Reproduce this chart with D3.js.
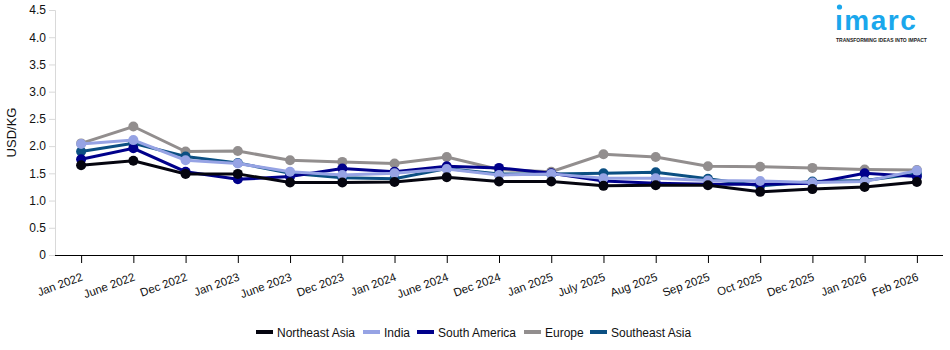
<!DOCTYPE html>
<html>
<head>
<meta charset="utf-8">
<script src="https://cdn.jsdelivr.net/npm/d3@7"></script>
<style>
  body { margin: 0; background: #fff; font-family: Arial, "Liberation Sans", sans-serif; }
  svg text { font-family: Arial, "Liberation Sans", sans-serif; }
</style>
</head>
<body>
<div id="chart"></div>
<script>
const months = ['Jan 2022', 'June 2022', 'Dec 2022', 'Jan 2023', 'June 2023', 'Dec 2023', 'Jan 2024',
  'June 2024', 'Dec 2024', 'Jan 2025', 'July 2025', 'Aug 2025', 'Sep 2025', 'Oct 2025',
  'Dec 2025', 'Jan 2026', 'Feb 2026'];

const northeastAsia = [1.65, 1.73, 1.49, 1.49, 1.33, 1.33, 1.34, 1.43, 1.35, 1.35, 1.27, 1.28, 1.28, 1.16, 1.21, 1.25, 1.34];
const india = [2.04, 2.11, 1.74, 1.68, 1.53, 1.47, 1.50, 1.58, 1.47, 1.49, 1.41, 1.41, 1.37, 1.36, 1.33, 1.35, 1.55];
const southAmerica = [1.76, 1.96, 1.53, 1.39, 1.44, 1.59, 1.53, 1.63, 1.60, 1.50, 1.36, 1.32, 1.30, 1.30, 1.32, 1.50, 1.44];
const europe = [2.05, 2.36, 1.90, 1.91, 1.74, 1.71, 1.68, 1.80, 1.57, 1.53, 1.85, 1.80, 1.63, 1.62, 1.60, 1.57, 1.56];
const southeastAsia = [1.90, 2.05, 1.81, 1.69, 1.50, 1.42, 1.40, 1.59, 1.49, 1.49, 1.50, 1.52, 1.40, 1.27, 1.35, 1.37, 1.49];

const yTicks = [0, 0.5, 1.0, 1.5, 2.0, 2.5, 3.0, 3.5, 4.0, 4.5];

const series = [
  { name: 'Northeast Asia', values: northeastAsia, color: '#05050f' },
  { name: 'India', values: india, color: '#96a3e4' },
  { name: 'South America', values: southAmerica, color: '#00008b' },
  { name: 'Europe', values: europe, color: '#928e8e' },
  { name: 'Southeast Asia', values: southeastAsia, color: '#0b4f82' },
];
// paint order: back to front
const drawOrder = ['Europe', 'Southeast Asia', 'South America', 'India', 'Northeast Asia'];

const width = 950, height = 350;
const margin = { left: 55, right: 7, top: 10, bottom: 95 };

const svg = d3.select('#chart').append('svg')
  .attr('width', width)
  .attr('height', height);

const x = d3.scalePoint()
  .domain(months)
  .range([margin.left, width - margin.right])
  .padding(0.5);

const y = d3.scaleLinear()
  .domain([0, 4.5])
  .range([height - margin.bottom, margin.top]);

// Y axis
const yAxis = svg.append('g')
  .attr('transform', 'translate(' + margin.left + ',0)')
  .call(d3.axisLeft(y).tickValues(yTicks).tickSize(6)
    .tickFormat(d => d === 0 ? '0' : d3.format('.1f')(d)));
yAxis.select('.domain').attr('stroke', '#d9d9d9');
yAxis.selectAll('.tick line').attr('stroke', '#d9d9d9');
yAxis.selectAll('.tick text').attr('fill', '#111').style('font-size', '12px').attr('x', -9);

// X axis
const xAxis = svg.append('g')
  .attr('transform', 'translate(0,' + y(0) + ')')
  .call(d3.axisBottom(x).tickSize(8).tickSizeOuter(0));
xAxis.select('.domain').attr('stroke', '#000').attr('d', 'M' + margin.left + ',0.5H' + (width - margin.right));
xAxis.selectAll('.tick line').attr('stroke', '#000');
xAxis.selectAll('.tick text')
  .attr('fill', '#111')
  .style('font-size', '11.5px')
  .style('text-anchor', 'end')
  .attr('dy', null)
  .attr('y', 0)
  .attr('transform', 'translate(2,25) rotate(-20)');

// y label
svg.append('text')
  .attr('transform', 'translate(16,' + ((y(0) + y(4.5)) / 2) + ') rotate(-90)')
  .attr('text-anchor', 'middle')
  .style('font-size', '13px')
  .attr('fill', '#111')
  .text('USD/KG');

// lines and dots
const line = d3.line()
  .x((d, i) => x(months[i]))
  .y(d => y(d));

drawOrder.forEach(name => {
  const s = series.find(e => e.name === name);
  const g = svg.append('g');
  g.append('path')
    .datum(s.values)
    .attr('d', line)
    .attr('fill', 'none')
    .attr('stroke', s.color)
    .attr('stroke-width', 3);
  g.selectAll('circle')
    .data(s.values)
    .enter()
    .append('circle')
    .attr('cx', (d, i) => x(months[i]))
    .attr('cy', d => y(d))
    .attr('r', 5)
    .attr('fill', s.color);
});

// legend
const legendX = [256, 363, 417, 524, 590];
const legend = svg.append('g');
series.forEach((s, i) => {
  const item = legend.append('g').attr('transform', 'translate(' + legendX[i] + ',332)');
  item.append('rect')
    .attr('x', 0).attr('y', -2)
    .attr('width', 17).attr('height', 4)
    .attr('fill', s.color);
  item.append('text')
    .attr('x', 21).attr('y', 4.5)
    .style('font-size', '12px')
    .attr('fill', '#111')
    .text(s.name);
});

// logo
const logo = svg.append('g').attr('transform', 'translate(835,0)');
logo.append('circle').attr('cx', 4.5).attr('cy', 7).attr('r', 2.6).attr('fill', '#1aa7ec');
logo.append('text')
  .attr('x', 0).attr('y', 30)
  .style('font-size', '28px')
  .style('font-weight', 'bold')
  .style('letter-spacing', '1.5px')
  .attr('fill', '#1aa7ec')
  .text('ımarc');
logo.append('text')
  .attr('x', 1).attr('y', 42)
  .style('font-size', '5px')
  .style('font-weight', 'bold')
  .attr('fill', '#222')
  .text('TRANSFORMING IDEAS INTO IMPACT');
</script>
</body>
</html>
